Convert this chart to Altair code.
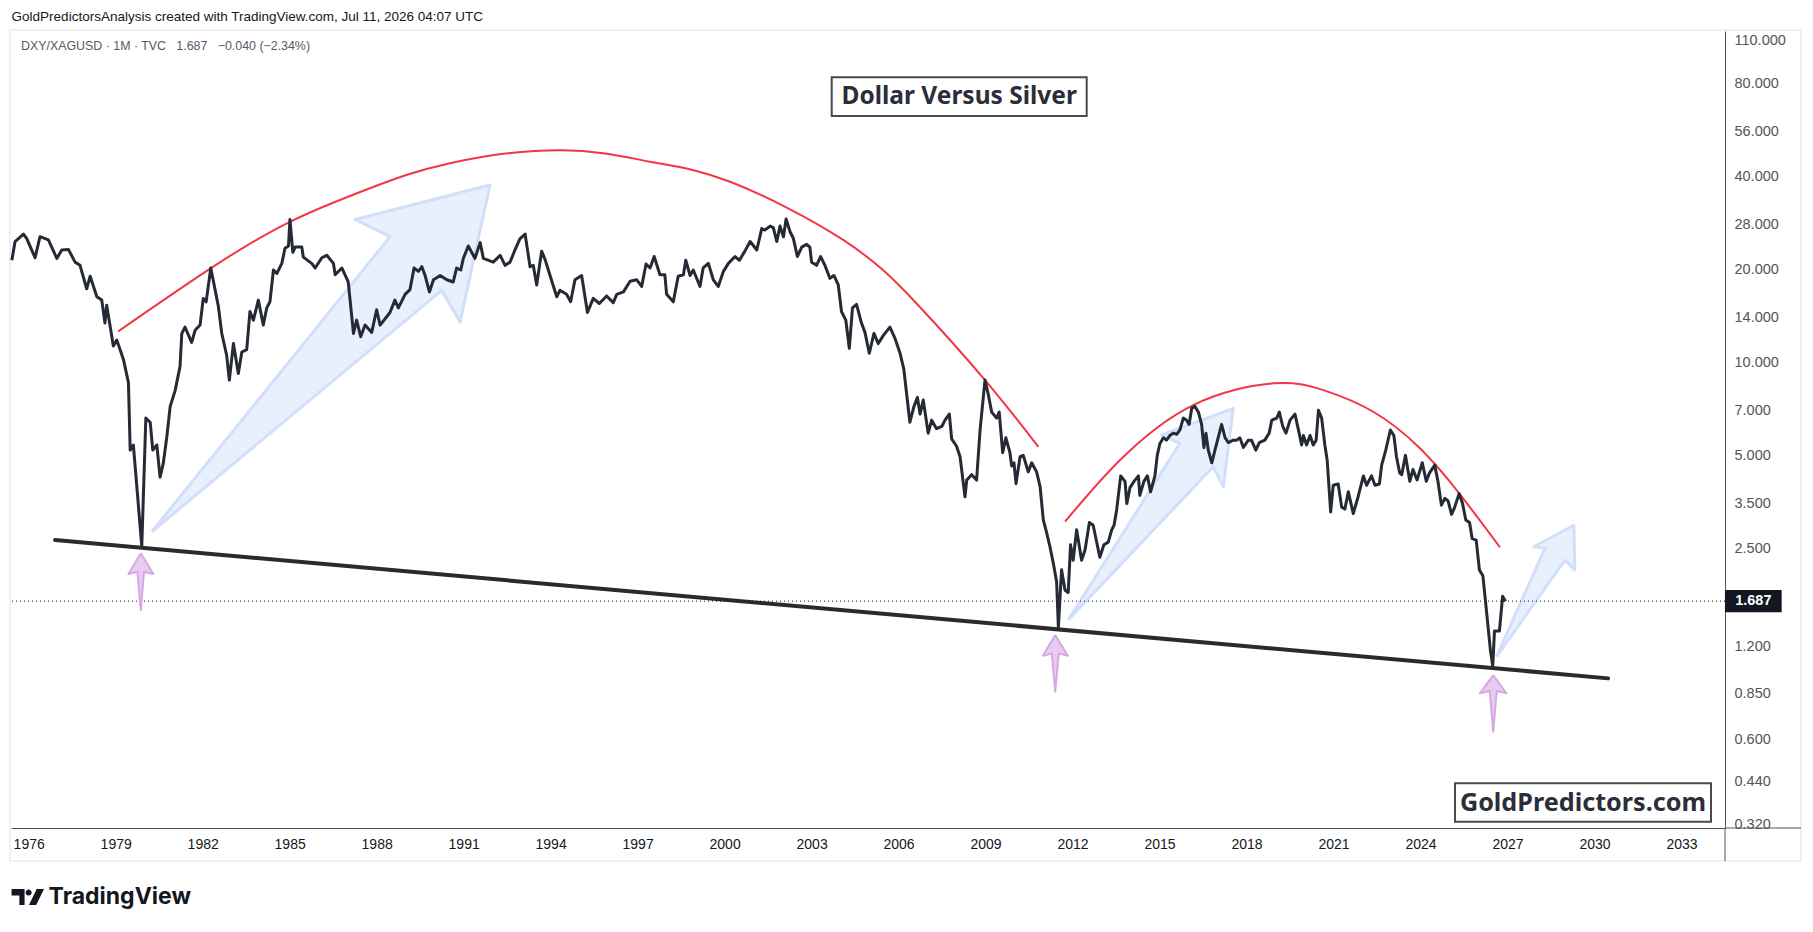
import altair as alt
import pandas as pd

# ---------------- values ----------------
# monthly DXY/XAGUSD (year fraction, ratio) in several eras
seg_1975_1987 = [
    (1975.42, 21.4), (1975.53, 24.6), (1975.82, 26.0), (1975.93, 25.2), (1976.22, 21.8),
    (1976.39, 25.5), (1976.68, 24.9), (1976.97, 21.7), (1977.14, 23.1), (1977.37, 23.2),
    (1977.60, 21.1), (1977.77, 20.6), (1978.00, 17.3), (1978.12, 19.0), (1978.35, 16.3),
    (1978.52, 15.9), (1978.63, 13.4), (1978.69, 15.3), (1978.92, 11.3), (1979.04, 11.8),
    (1979.27, 10.2), (1979.44, 8.6), (1979.50, 5.2), (1979.61, 5.4), (1979.73, 3.96),
    (1979.90, 2.53), (1980.04, 6.6), (1980.19, 6.4), (1980.28, 5.2), (1980.42, 5.4),
    (1980.53, 4.25), (1980.64, 4.7), (1980.76, 5.7), (1980.88, 7.2), (1981.05, 8.1),
    (1981.22, 9.7), (1981.28, 12.4), (1981.39, 13.0), (1981.62, 11.6), (1981.74, 12.7),
    (1981.91, 13.2), (1982.02, 16.1), (1982.12, 15.7), (1982.28, 20.2), (1982.54, 15.2),
    (1982.66, 12.4), (1982.83, 10.5), (1982.92, 8.76), (1983.06, 11.5), (1983.23, 9.2),
    (1983.35, 10.8), (1983.52, 11.0), (1983.63, 14.6), (1983.75, 13.7), (1983.92, 15.9),
    (1984.09, 13.2), (1984.21, 15.0), (1984.32, 15.7), (1984.44, 19.9), (1984.56, 19.4),
    (1984.73, 20.9), (1984.84, 23.4), (1984.96, 23.8), (1985.01, 29.0), (1985.11, 22.7),
    (1985.19, 23.6), (1985.42, 23.6), (1985.47, 21.9), (1985.76, 20.9), (1985.88, 20.2),
    (1986.11, 21.8), (1986.28, 22.2), (1986.51, 20.9), (1986.57, 19.2), (1986.80, 20.2),
    (1987.02, 18.2),
]
seg_1987_1999 = [
    (1987.20, 12.4), (1987.31, 13.7), (1987.45, 12.1), (1987.60, 13.2), (1987.83, 12.5),
    (1988.00, 14.8), (1988.12, 13.2), (1988.46, 14.5), (1988.63, 15.9), (1988.75, 15.0),
    (1988.98, 16.6), (1989.15, 17.2), (1989.29, 20.2), (1989.44, 19.7), (1989.56, 20.4),
    (1989.67, 19.1), (1989.82, 16.9), (1989.96, 18.5), (1990.19, 19.1), (1990.42, 18.5),
    (1990.64, 18.2), (1990.76, 20.2), (1990.90, 19.9), (1990.99, 21.7), (1991.16, 23.8),
    (1991.39, 21.7), (1991.57, 24.4), (1991.68, 21.7), (1992.02, 21.1), (1992.26, 22.2),
    (1992.43, 20.6), (1992.60, 21.1), (1992.77, 23.1), (1992.94, 25.1), (1993.12, 26.0),
    (1993.29, 20.4), (1993.40, 20.6), (1993.52, 17.8), (1993.69, 22.9), (1993.81, 21.5),
    (1993.98, 19.1), (1994.21, 16.3), (1994.32, 17.1), (1994.55, 16.6), (1994.69, 15.7),
    (1994.84, 18.5), (1995.07, 19.1), (1995.27, 14.5), (1995.47, 16.1), (1995.68, 15.5),
    (1995.93, 16.4), (1996.16, 15.6), (1996.28, 16.6), (1996.51, 16.9), (1996.74, 18.3),
    (1996.97, 18.5), (1997.14, 17.6), (1997.29, 20.8), (1997.43, 20.2), (1997.57, 22.0),
    (1997.77, 19.2), (1997.94, 19.2), (1998.00, 16.6), (1998.23, 15.7), (1998.40, 19.0),
    (1998.58, 19.2), (1998.66, 21.4), (1998.81, 19.1), (1998.92, 19.9), (1999.15, 17.6),
    (1999.26, 20.2), (1999.44, 20.9), (1999.61, 18.5), (1999.78, 17.6), (1999.96, 19.7),
]
seg_2000_2010 = [
    (2000.13, 20.9), (2000.36, 22.0), (2000.51, 21.4), (2000.70, 22.9), (2000.88, 24.6),
    (2001.11, 23.1), (2001.28, 27.1), (2001.39, 26.8), (2001.57, 27.6), (2001.68, 27.3),
    (2001.80, 24.6), (2001.91, 27.6), (2002.03, 25.5), (2002.12, 29.1), (2002.26, 26.4),
    (2002.37, 25.2), (2002.51, 22.0), (2002.66, 23.6), (2002.83, 24.1), (2002.94, 23.6),
    (2003.00, 21.1), (2003.17, 20.6), (2003.31, 22.0), (2003.46, 20.6), (2003.63, 18.7),
    (2003.77, 19.1), (2003.92, 17.8), (2004.03, 14.6), (2004.18, 13.7), (2004.30, 11.1),
    (2004.41, 15.0), (2004.55, 15.4), (2004.72, 13.4), (2004.84, 12.5), (2004.99, 10.7),
    (2005.15, 12.4), (2005.30, 11.5), (2005.47, 12.2), (2005.70, 13.0), (2005.87, 12.0),
    (2006.05, 10.7), (2006.18, 9.5), (2006.39, 6.4), (2006.53, 7.2), (2006.65, 7.7),
    (2006.74, 6.8), (2006.85, 7.55), (2007.02, 5.9), (2007.14, 6.5), (2007.31, 6.1),
    (2007.49, 6.2), (2007.60, 6.5), (2007.75, 6.8), (2007.83, 5.65), (2008.00, 5.35),
    (2008.12, 4.95), (2008.29, 3.67), (2008.35, 4.16), (2008.52, 4.33), (2008.69, 4.16),
    (2008.81, 6.04), (2008.98, 8.76), (2009.09, 7.9), (2009.21, 6.9), (2009.38, 6.6),
    (2009.47, 6.9), (2009.59, 5.1), (2009.70, 5.7), (2009.84, 5.1), (2009.90, 4.62),
    (2009.98, 4.73), (2010.05, 4.05), (2010.19, 4.95), (2010.30, 5.0), (2010.47, 4.42),
    (2010.59, 4.73), (2010.76, 4.42), (2010.88, 3.96),
]
seg_2011_2018 = [
    (2010.99, 3.09), (2011.11, 2.80), (2011.22, 2.53), (2011.35, 2.2), (2011.45, 1.95),
    (2011.51, 1.39), (2011.62, 2.13), (2011.74, 1.83), (2011.85, 1.80), (2011.93, 2.57),
    (2012.02, 2.29), (2012.14, 2.87), (2012.31, 2.29), (2012.43, 2.47), (2012.58, 3.03),
    (2012.71, 2.97), (2012.94, 2.34), (2013.08, 2.57), (2013.23, 2.62), (2013.35, 2.87),
    (2013.43, 2.97), (2013.52, 3.33), (2013.66, 4.29), (2013.81, 4.12), (2013.87, 3.49),
    (2013.98, 3.93), (2014.12, 4.12), (2014.27, 4.29), (2014.32, 3.71), (2014.46, 4.12),
    (2014.58, 4.29), (2014.69, 3.81), (2014.84, 4.29), (2014.92, 5.0), (2015.01, 5.45),
    (2015.13, 5.7), (2015.24, 5.6), (2015.36, 5.8), (2015.47, 5.9), (2015.59, 5.85),
    (2015.70, 6.04), (2015.82, 6.6), (2015.93, 6.5), (2016.02, 6.3), (2016.11, 7.1),
    (2016.22, 7.2), (2016.34, 6.9), (2016.45, 6.3), (2016.53, 5.3), (2016.60, 5.9),
    (2016.68, 5.2), (2016.80, 4.73), (2016.91, 5.2), (2017.02, 5.7), (2017.14, 6.3),
    (2017.26, 5.7), (2017.37, 5.5), (2017.54, 5.6), (2017.66, 5.6), (2017.77, 5.7),
    (2017.89, 5.3), (2018.06, 5.6), (2018.17, 5.6), (2018.32, 5.2), (2018.44, 5.5),
    (2018.63, 5.6), (2018.78, 5.9), (2018.87, 6.5),
]
seg_2019_2026 = [
    (2019.04, 6.6), (2019.13, 6.9), (2019.25, 6.2), (2019.36, 5.9), (2019.50, 6.5),
    (2019.67, 6.8), (2019.78, 6.1), (2019.90, 5.4), (2019.96, 5.8), (2020.07, 5.4),
    (2020.19, 5.8), (2020.30, 5.4), (2020.40, 5.6), (2020.48, 7.0), (2020.59, 6.6),
    (2020.70, 5.4), (2020.78, 4.83), (2020.90, 3.28), (2020.99, 4.0), (2021.16, 4.04),
    (2021.28, 3.40), (2021.39, 3.35), (2021.51, 3.81), (2021.68, 3.24), (2021.85, 3.68),
    (2022.03, 4.29), (2022.14, 4.0), (2022.31, 4.29), (2022.43, 4.0), (2022.58, 4.04),
    (2022.66, 4.65), (2022.80, 5.2), (2022.96, 6.04), (2023.08, 5.8), (2023.17, 4.95),
    (2023.28, 4.39), (2023.35, 4.33), (2023.48, 5.0), (2023.63, 4.12), (2023.74, 4.5),
    (2023.88, 4.16), (2024.06, 4.73), (2024.20, 4.12), (2024.31, 4.39), (2024.49, 4.65),
    (2024.60, 4.12), (2024.72, 3.45), (2024.84, 3.63), (2024.95, 3.56), (2025.07, 3.22),
    (2025.18, 3.40), (2025.33, 3.76), (2025.45, 3.49), (2025.56, 3.09), (2025.69, 3.03),
    (2025.78, 2.69), (2025.92, 2.66), (2026.03, 2.13), (2026.15, 2.04), (2026.28, 1.55),
    (2026.41, 1.17), (2026.49, 1.04), (2026.55, 1.35), (2026.72, 1.35), (2026.83, 1.75),
    (2026.93, 1.687),
]
last_price = 1.687

# drawn annotations (year, ratio)
red_arc_1 = [(1979.09, 12.6), (1982.26, 20.1), (1985.01, 28.5), (1987.77, 36.6),
             (1990.53, 44.1), (1994.4, 48.6), (1997.43, 44.6), (2000.19, 38.4),
             (2004.09, 24.9), (2006.62, 15.5), (2008.98, 8.76), (2010.82, 5.33)]
red_arc_2 = [(2011.74, 3.05), (2013.64, 4.83), (2016.16, 7.27), (2018.92, 8.55),
             (2020.65, 8.13), (2022.37, 6.92), (2023.98, 5.27), (2025.34, 3.76),
             (2026.74, 2.52)]
support_line = [(1976.91, 2.66), (2030.47, 0.949)]

blue_arrow_1 = [(1980.245, 2.83), (1988.462, 25.5), (1987.255, 29.0), (1991.91, 37.5),
                (1990.876, 13.5), (1990.245, 17.1)]
blue_arrow_2 = [(2011.85, 1.466), (2015.70, 5.47), (2015.07, 5.82), (2017.54, 7.10),
                (2017.20, 3.96), (2016.85, 4.59)]
blue_arrow_3 = [(2026.62, 1.115), (2028.29, 2.50), (2027.91, 2.53), (2029.29, 2.97),
                (2029.32, 2.13), (2028.98, 2.29)]

purple_arrow_1 = [(1979.866, 2.409), (1980.30, 2.065), (1979.979, 2.101), (1979.866, 1.579),
                  (1979.748, 2.101), (1979.438, 2.065)]
purple_arrow_2 = [(2011.403, 1.311), (2011.834, 1.123), (2011.524, 1.143), (2011.403, 0.859),
                  (2011.283, 1.143), (2010.972, 1.123)]
purple_arrow_3 = [(2026.507, 0.9728), (2026.966, 0.8487), (2026.628, 0.8634), (2026.507, 0.6373),
                  (2026.386, 0.8634), (2026.048, 0.8487)]

x_domain = [1975.39, 2034.50]
y_domain = [0.3112, 118.1]
x_ticks = list(range(1976, 2034, 3))
y_ticks = [110, 80, 56, 40, 28, 20, 14, 10, 7, 5, 3.5, 2.5, 1.2, 0.85, 0.6, 0.44, 0.32]

header_text = "GoldPredictorsAnalysis created with TradingView.com, Jul 11, 2026 04:07 UTC"
symbol_text = "DXY/XAGUSD \u00b7 1M \u00b7 TVC\u00a0\u00a0 1.687\u00a0\u00a0 \u22120.040 (\u22122.34%)"
title_text = "Dollar Versus Silver"
site_text = "GoldPredictors.com"
brand_text = "TradingView"

# ---------------- building ----------------
W, H = 1714, 797


def pts_df(pairs, name):
    return pd.DataFrame({
        "year": [p[0] for p in pairs],
        "value": [p[1] for p in pairs],
        "i": list(range(len(pairs))),
        "id": name,
    })


def poly_df(polys):
    frames = []
    for k, pts in enumerate(polys):
        closed = list(pts) + [pts[0]]
        frames.append(pts_df(closed, f"p{k}"))
    return pd.concat(frames, ignore_index=True)


series = pts_df(seg_1975_1987 + seg_1987_1999 + seg_2000_2010 + seg_2011_2018 + seg_2019_2026,
                "DXY/XAGUSD")
arcs = pd.concat([pts_df(red_arc_1, "a1"), pts_df(red_arc_2, "a2")], ignore_index=True)
support = pts_df(support_line, "s")
blue = poly_df([blue_arrow_1, blue_arrow_2, blue_arrow_3])
purple = poly_df([purple_arrow_1, purple_arrow_2, purple_arrow_3])

xs = alt.Scale(domain=x_domain, nice=False, zero=False)
ys = alt.Scale(type="log", domain=y_domain, nice=False)

x_axis = alt.Axis(values=x_ticks, format="d", labelFlush=False, labelOverlap=False, grid=False,
                  ticks=False, domain=True, domainColor="#50535e", domainWidth=1,
                  labelColor="#131722", labelFont="Liberation Sans", labelFontSize=14,
                  labelPadding=9, title=None)
y_axis = alt.Axis(orient="right", values=y_ticks, format=".3f", grid=False, ticks=False,
                  domain=True, labelOverlap=False, domainColor="#50535e", domainWidth=1,
                  labelColor="#555555", labelFont="Liberation Sans", labelFontSize=14.5,
                  labelPadding=9, title=None)

# identical axis definitions in every layer, so that the shared axes merge cleanly
X0 = alt.X("year:Q", scale=xs, axis=x_axis)
Y0 = alt.Y("value:Q", scale=ys, axis=y_axis)

frame = alt.Chart(pd.DataFrame({"k": [0]})).mark_rect(
    fill=None, stroke="#e0e3eb", strokeWidth=1
).encode(x=alt.value(-1), x2=alt.value(1790), y=alt.value(-1), y2=alt.value(830))

blue_layer = alt.Chart(blue).mark_line(
    fill="#e4ecfd", fillOpacity=0.85, stroke="#d2dffb", strokeWidth=3, strokeJoin="round"
).encode(x=X0, y=Y0, order="i:Q", detail="id:N")

support_layer = alt.Chart(support).mark_line(
    color="#2b2b2b", strokeWidth=4, strokeCap="round"
).encode(x=X0, y=Y0, order="i:Q")

arc_layer = alt.Chart(arcs).mark_line(
    color="#f23645", strokeWidth=2, interpolate="natural"
).encode(x=X0, y=Y0, order="i:Q", detail="id:N")

price_df = pd.DataFrame({"value": [last_price], "label": [f"{last_price:.3f}"]})
price_rule = alt.Chart(price_df).mark_rule(
    color="#131722", strokeWidth=1, strokeDash=[1, 3]
).encode(y=Y0)

main = alt.Chart(series).mark_line(
    color="#252a35", strokeWidth=3, strokeJoin="round"
).encode(x=X0, y=Y0, order="i:Q")

purple_layer = alt.Chart(purple).mark_line(
    fill="#e6c8ef", fillOpacity=0.95, stroke="#d6a9e2", strokeWidth=2, strokeJoin="round"
).encode(x=X0, y=Y0, order="i:Q", detail="id:N")

# extensions of the axis lines into the price scale / time scale corners
axis_ext_h = alt.Chart(pd.DataFrame({"k": [0]})).mark_rule(color="#50535e", strokeWidth=1).encode(
    x=alt.value(W), x2=alt.value(1790), y=alt.value(H))
axis_ext_v = alt.Chart(pd.DataFrame({"k": [0]})).mark_rule(color="#50535e", strokeWidth=1).encode(
    x=alt.value(W), y=alt.value(H), y2=alt.value(830))

price_box = alt.Chart(price_df).mark_point(
    shape="M-1,-0.39 L1,-0.39 L1,0.39 L-1,0.39 Z", size=3215, filled=True,
    fill="#131722", opacity=1, strokeWidth=0
).encode(x=alt.value(1742.3), y=Y0)
price_text = alt.Chart(price_df).mark_text(
    color="white", font="Liberation Sans", fontSize=14.5, fontWeight="bold", align="center",
    baseline="middle"
).encode(x=alt.value(1742.3), y=Y0, text="label:N")

title_box = alt.Chart(pd.DataFrame({"k": [0]})).mark_rect(
    fill="white", stroke="#4a4a4a", strokeWidth=2
).encode(x=alt.value(820.7), x2=alt.value(1075.7), y=alt.value(46.3), y2=alt.value(85.0))
title_txt = alt.Chart(pd.DataFrame({"t": [title_text]})).mark_text(
    font="Noto Sans", fontSize=24.5, fontWeight="bold", color="#2a2e39", align="center",
    baseline="middle"
).encode(x=alt.value(948.2), y=alt.value(66.2), text="t:N")

site_box = alt.Chart(pd.DataFrame({"k": [0]})).mark_rect(
    fill="white", stroke="#4a4a4a", strokeWidth=2
).encode(x=alt.value(1444), x2=alt.value(1700), y=alt.value(752.3), y2=alt.value(790.7))
site_txt = alt.Chart(pd.DataFrame({"t": [site_text]})).mark_text(
    font="Noto Sans", fontSize=25.2, fontWeight="bold", color="#2a2e39", align="center",
    baseline="middle"
).encode(x=alt.value(1572), y=alt.value(772), text="t:N")

header = alt.Chart(pd.DataFrame({"t": [header_text]})).mark_text(
    font="Liberation Sans", fontSize=13.5, color="#131722", align="left", baseline="middle"
).encode(x=alt.value(0.6), y=alt.value(-14), text="t:N")
symbol = alt.Chart(pd.DataFrame({"t": [symbol_text]})).mark_text(
    font="Liberation Sans", fontSize=12.4, color="#555b66", align="left", baseline="middle"
).encode(x=alt.value(10), y=alt.value(15), text="t:N")

logo_icon = alt.Chart(pd.DataFrame({"k": [0]})).mark_point(
    shape=("M-1,-0.5 L-0.2,-0.5 L-0.2,0.5 L-0.52,0.5 L-0.52,-0.1 L-1,-0.1 Z "
           "M-0.14,-0.28 A0.19,0.19 0 1,0 0.24,-0.28 A0.19,0.19 0 1,0 -0.14,-0.28 Z "
           "M0.55,-0.5 L1,-0.5 L0.52,0.5 L0.07,0.5 Z"),
    size=1050, filled=True, fill="#131722", opacity=1, strokeWidth=0
).encode(x=alt.value(16.8), y=alt.value(866))
logo_txt = alt.Chart(pd.DataFrame({"t": [brand_text]})).mark_text(
    font="Inter", fontSize=23, fontWeight="bold", color="#131722", align="left", baseline="middle"
).encode(x=alt.value(37.6), y=alt.value(866), text="t:N")

chart = alt.layer(
    frame, blue_layer, support_layer, arc_layer, price_rule, main, purple_layer,
    axis_ext_h, axis_ext_v, price_box, price_text, title_box, title_txt, site_box, site_txt,
    header, symbol, logo_icon, logo_txt,
).properties(
    width=W, height=H,
    padding={"left": 11, "top": 31, "right": 88, "bottom": 104},
    autosize=alt.AutoSizeParams(type="none"),
    background="white",
).configure(font="Liberation Sans").configure_view(stroke=None)

chart.save("out.html", embed_options={"renderer": "svg", "actions": False})
